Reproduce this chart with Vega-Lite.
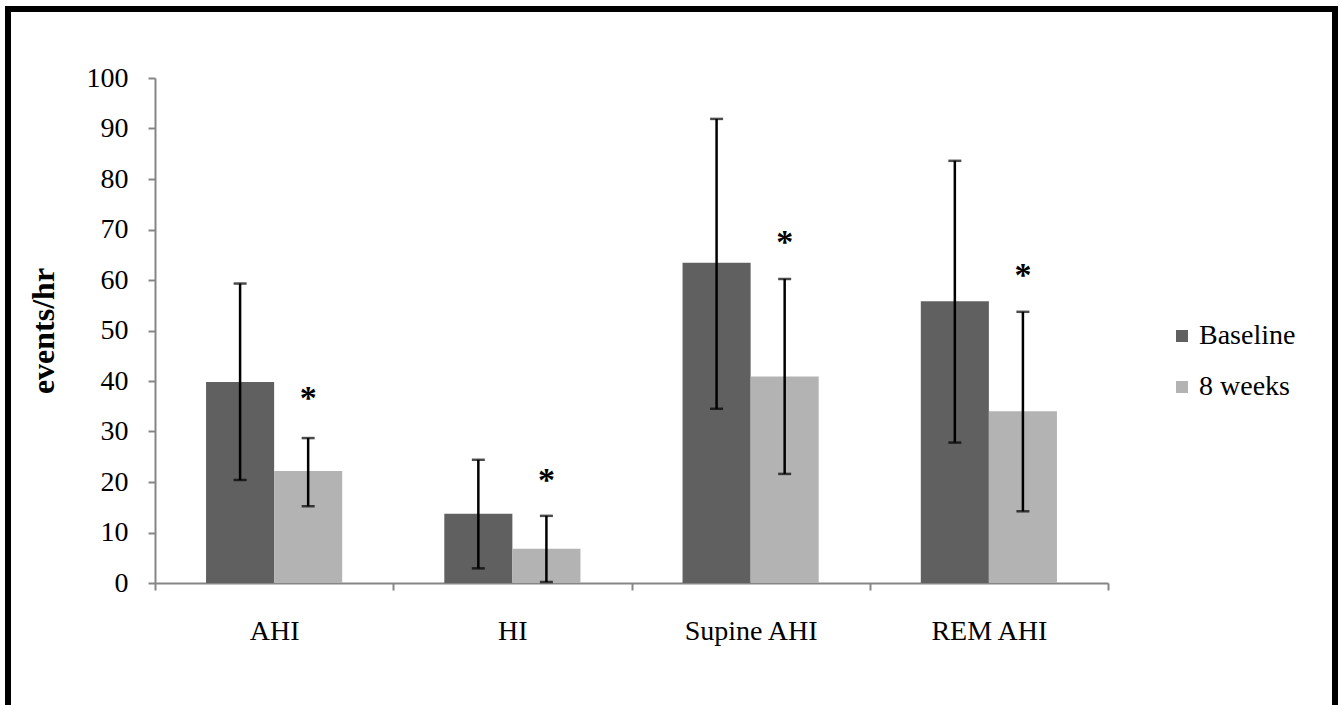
{
  "$schema": "https://vega.github.io/schema/vega-lite/v6.json",
  "autosize": {"type": "none"},
  "padding": {"left": 8, "top": 9, "right": 7, "bottom": 0},
  "width": 1327,
  "height": 710,
  "background": "white",
  "config": {
    "view": {"stroke": "black", "strokeWidth": 6},
    "font": "Liberation Serif",
    "axisY": {
      "domainColor": "#868686", "domainWidth": 2, "tickColor": "#868686", "tickWidth": 2,
      "tickSize": 7, "labelFontSize": 28, "labelColor": "black", "labelPadding": 20,
      "titleFontSize": 32, "titleFontWeight": "bold", "titleColor": "black", "titlePadding": 26,
      "grid": false, "offset": -147, "tickCount": 10
    },
    "axisX": {
      "domainColor": "#868686", "domainWidth": 2, "tickColor": "#868686", "tickWidth": 2,
      "tickSize": 7, "labelFontSize": 28, "labelColor": "black", "labelPadding": 27,
      "labelAngle": 0, "grid": false, "offset": -136
    }
  },
  "data": {
    "values": [
      {"cat": "AHI", "group": "Baseline", "mean": 39.8, "lo": 20.4, "hi": 59.3, "star": null},
      {"cat": "AHI", "group": "8 weeks", "mean": 22.2, "lo": 15.2, "hi": 28.7, "star": 37.0},
      {"cat": "HI", "group": "Baseline", "mean": 13.7, "lo": 2.9, "hi": 24.4, "star": null},
      {"cat": "HI", "group": "8 weeks", "mean": 6.8, "lo": 0.2, "hi": 13.3, "star": 20.8},
      {"cat": "Supine AHI", "group": "Baseline", "mean": 63.4, "lo": 34.5, "hi": 91.9, "star": null},
      {"cat": "Supine AHI", "group": "8 weeks", "mean": 40.9, "lo": 21.6, "hi": 60.2, "star": 67.9},
      {"cat": "REM AHI", "group": "Baseline", "mean": 55.8, "lo": 27.8, "hi": 83.6, "star": null},
      {"cat": "REM AHI", "group": "8 weeks", "mean": 34.0, "lo": 14.2, "hi": 53.7, "star": 61.4}
    ]
  },
  "encoding": {
    "x": {
      "field": "cat", "type": "nominal", "title": null,
      "sort": ["AHI", "HI", "Supine AHI", "REM AHI"],
      "scale": {"range": [147, 1100], "paddingInner": 0, "paddingOuter": 0},
      "axis": {"tickBand": "extent"}
    },
    "xOffset": {
      "field": "group", "type": "nominal", "sort": ["Baseline", "8 weeks"],
      "scale": {"domain": ["Baseline", "8 weeks"], "paddingInner": 0, "paddingOuter": 0.75}
    }
  },
  "layer": [
    {
      "mark": {"type": "bar"},
      "encoding": {
        "y": {"field": "mean", "type": "quantitative", "title": "events/hr",
              "scale": {"domain": [0, 100], "range": [574, 69], "nice": false}},
        "color": {
          "field": "group", "type": "nominal", "sort": ["Baseline", "8 weeks"],
          "scale": {"domain": ["Baseline", "8 weeks"], "range": ["#606060", "#b3b3b3"]},
          "legend": {
            "title": null, "orient": "none", "legendX": 1160, "legendY": 313,
            "symbolType": "square", "symbolSize": 144, "symbolStrokeWidth": 0,
            "labelFontSize": 28, "labelColor": "black", "labelOffset": 3, "rowPadding": 23, "padding": 0
          }
        }
      }
    },
    {
      "mark": {"type": "rule", "color": "black", "strokeWidth": 2.5},
      "encoding": {
        "y": {"field": "lo", "type": "quantitative", "title": "events/hr",
              "scale": {"domain": [0, 100], "range": [574, 69], "nice": false}},
        "y2": {"field": "hi"}
      }
    },
    {
      "mark": {"type": "tick", "color": "black", "thickness": 2.5, "size": 13},
      "encoding": {
        "y": {"field": "lo", "type": "quantitative", "title": "events/hr",
              "scale": {"domain": [0, 100], "range": [574, 69], "nice": false}}
      }
    },
    {
      "mark": {"type": "tick", "color": "black", "thickness": 2.5, "size": 13},
      "encoding": {
        "y": {"field": "hi", "type": "quantitative", "title": "events/hr",
              "scale": {"domain": [0, 100], "range": [574, 69], "nice": false}}
      }
    },
    {
      "transform": [{"filter": "datum.star != null"}],
      "mark": {"type": "text", "text": "*", "fontSize": 34, "fontWeight": "bold", "baseline": "middle", "dy": 3, "color": "black"},
      "encoding": {
        "y": {"field": "star", "type": "quantitative", "title": "events/hr",
              "scale": {"domain": [0, 100], "range": [574, 69], "nice": false}}
      }
    }
  ]
}
